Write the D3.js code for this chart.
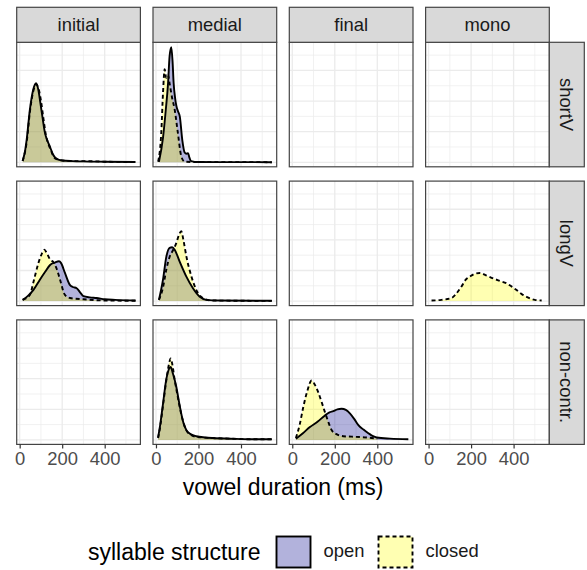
<!DOCTYPE html>
<html>
<head>
<meta charset="utf-8">
<script src="https://cdn.jsdelivr.net/npm/d3@7"></script>
<style>
    body { margin: 0; background: #fff; }
    text { font-family: "Liberation Sans", Arial, sans-serif; }
</style>
</head>
<body>
<div id="chart"></div>
<script>
var cols = ["initial", "medial", "final", "mono"];
var rows = ["shortV", "longV", "non-contr."];
var groups = ["open", "closed"];
var xTicks = [0, 200, 400];
var xMinor = [100, 300, 500];
var yGrid = [0, 0.0025, 0.005, 0.0075, 0.01, 0.0125, 0.015, 0.0175];

// density curves: [vowel duration ms, density]
var initialShortOpen = [[14,0.0002],[26,0.002],[33,0.0037],[48,0.0086],[64,0.0119],[77,0.0129],[88,0.0118],[97,0.0098],[108,0.0072],[119,0.0048],[132,0.0034],[143,0.0025],[155,0.0014],[166,0.0008],[185,0.0004],[200,0.0003],[250,0.0002],[300,0.00015],[400,0.0001],[545,0.00005]];
var initialShortClosed = [[14,0.0002],[33,0.0033],[48,0.0082],[64,0.0116],[78,0.0127],[90,0.0119],[100,0.0101],[112,0.0071],[123,0.0045],[135,0.003],[148,0.0019],[160,0.0009],[175,0.0005],[200,0.0003],[250,0.0002],[300,0.0002],[400,0.0001],[545,0.00005]];
var medialShortOpen = [[14,0.0001],[33,0.004],[46,0.0085],[57,0.013],[64,0.0173],[72,0.0188],[78,0.0165],[83,0.013],[90,0.0105],[96,0.0092],[104,0.0083],[112,0.0075],[124,0.0036],[135,0.0016],[143,0.0014],[151,0.0015],[157,0.0008],[165,0.0002],[200,0.00005],[300,0.00003],[545,0.00002]];
var medialShortClosed = [[10,0.0001],[25,0.0049],[33,0.0113],[41,0.0152],[48,0.0138],[56,0.0143],[65,0.0127],[76,0.0105],[88,0.0086],[103,0.0048],[119,0.001],[135,0.0001],[200,0.00003],[545,0.00002]];
var initialLongOpen = [[14,0.0002],[40,0.0009],[64,0.0018],[95,0.0035],[120,0.0048],[143,0.0059],[166,0.0063],[185,0.0065],[195,0.0062],[213,0.0046],[237,0.0026],[250,0.0023],[268,0.0021],[285,0.0014],[300,0.0008],[330,0.0006],[362,0.0005],[400,0.0003],[450,0.0002],[545,0.0001]];
var initialLongClosed = [[14,0.0002],[48,0.001],[64,0.003],[88,0.0062],[105,0.0078],[116,0.0084],[128,0.0078],[143,0.0068],[160,0.0063],[175,0.0052],[190,0.0035],[213,0.001],[237,0.0005],[300,0.0003],[400,0.0001],[545,0.00005]];
var medialLongOpen = [[14,0.0002],[33,0.0035],[49,0.0073],[64,0.0087],[76,0.0088],[88,0.0084],[111,0.0065],[143,0.004],[174,0.0021],[206,0.0007],[237,0.0002],[300,0.0001],[545,0.00005]];
var medialLongClosed = [[14,0.0002],[33,0.0022],[49,0.0052],[64,0.0072],[80,0.0083],[96,0.0095],[108,0.0108],[119,0.0114],[130,0.0098],[143,0.0073],[167,0.004],[190,0.0018],[221,0.0005],[260,0.0001],[545,0.00003]];
var monoLongClosed = [[14,0.0001],[60,0.0002],[108,0.0005],[130,0.0012],[155,0.0024],[175,0.0035],[194,0.004],[220,0.0045],[241,0.0046],[270,0.0042],[304,0.0037],[335,0.0033],[367,0.0029],[390,0.0024],[414,0.0018],[440,0.0011],[461,0.0007],[500,0.0002],[532,0.0001]];
var medialNonOpen = [[10,0.0004],[20,0.0025],[33,0.0059],[49,0.01],[60,0.0115],[69,0.0119],[80,0.0108],[96,0.0086],[108,0.0063],[119,0.0043],[130,0.0027],[143,0.0016],[165,0.0009],[190,0.0006],[230,0.0004],[268,0.0003],[350,0.0002],[450,0.0001],[545,0.0001]];
var medialNonClosed = [[10,0.0003],[20,0.0022],[33,0.0056],[49,0.0098],[62,0.0125],[69,0.0133],[76,0.0125],[88,0.0098],[100,0.0075],[119,0.0042],[135,0.0022],[150,0.0012],[190,0.0005],[268,0.0003],[350,0.0002],[450,0.0001],[545,0.0001]];
var finalNonOpen = [[17,0.0002],[50,0.0011],[83,0.0021],[120,0.003],[154,0.004],[175,0.0045],[193,0.0047],[212,0.005],[232,0.0051],[252,0.0049],[272,0.0043],[292,0.0034],[311,0.0024],[335,0.0017],[358,0.0011],[380,0.0006],[397,0.0004],[460,0.0002],[546,0.0001]];
var finalNonClosed = [[17,0.0003],[35,0.0025],[52,0.0054],[70,0.0079],[91,0.0097],[105,0.0091],[122,0.0078],[138,0.0062],[154,0.0045],[170,0.0029],[185,0.0016],[210,0.0009],[240,0.0006],[300,0.0005],[350,0.0004],[400,0.0002]];

var curves = [
    {col: "initial", row: "shortV", group: "open", values: initialShortOpen},
    {col: "initial", row: "shortV", group: "closed", values: initialShortClosed},
    {col: "medial", row: "shortV", group: "open", values: medialShortOpen},
    {col: "medial", row: "shortV", group: "closed", values: medialShortClosed},
    {col: "initial", row: "longV", group: "open", values: initialLongOpen},
    {col: "initial", row: "longV", group: "closed", values: initialLongClosed},
    {col: "medial", row: "longV", group: "open", values: medialLongOpen},
    {col: "medial", row: "longV", group: "closed", values: medialLongClosed},
    {col: "mono", row: "longV", group: "closed", values: monoLongClosed},
    {col: "medial", row: "non-contr.", group: "open", values: medialNonOpen},
    {col: "medial", row: "non-contr.", group: "closed", values: medialNonClosed},
    {col: "final", row: "non-contr.", group: "open", values: finalNonOpen},
    {col: "final", row: "non-contr.", group: "closed", values: finalNonClosed}
];

// layout
var panelLeft = 16.7, colStep = 136.3, panelW = 123.7;
var panelTop = 42.3, rowStep = 138.8, panelH = 124.5;
var stripH = 35, stripW = 35;
var font = "Liberation Sans, Arial, sans-serif";

var fillColor = {open: "rgba(0, 0, 139, 0.3)", closed: "rgba(255, 255, 0, 0.3)"};
var dash = {open: null, closed: "4,3"};

var svg = d3.select("#chart")
    .append("svg")
    .attr("width", 587)
    .attr("height", 570);

var x = d3.scaleLinear().domain([-14, 568]).range([0, panelW]);
var y = d3.scaleLinear().domain([-0.000735, 0.0196]).range([panelH, 0]);

function panelX(c) { return panelLeft + cols.indexOf(c) * colStep; }
function panelY(r) { return panelTop + rows.indexOf(r) * rowStep; }

var area = d3.area()
    .curve(d3.curveMonotoneX)
    .x(function(d) { return x(d[0]); })
    .y0(y(0))
    .y1(function(d) { return y(d[1]); });
var line = d3.line()
    .curve(d3.curveMonotoneX)
    .x(function(d) { return x(d[0]); })
    .y(function(d) { return y(d[1]); });

rows.forEach(function(r) {
    cols.forEach(function(c) {
        var g = svg.append("g")
            .attr("transform", "translate(" + panelX(c) + "," + panelY(r) + ")");

        g.append("rect")
            .attr("width", panelW).attr("height", panelH)
            .attr("fill", "#fff");

        g.selectAll(".minorX").data(xMinor).enter().append("line")
            .attr("x1", function(d) { return x(d); }).attr("x2", function(d) { return x(d); })
            .attr("y1", 0).attr("y2", panelH)
            .attr("stroke", "#EBEBEB").attr("stroke-width", 0.7);
        g.selectAll(".majorX").data(xTicks).enter().append("line")
            .attr("x1", function(d) { return x(d); }).attr("x2", function(d) { return x(d); })
            .attr("y1", 0).attr("y2", panelH)
            .attr("stroke", "#EBEBEB").attr("stroke-width", 1.3);
        g.selectAll(".gridY").data(yGrid).enter().append("line")
            .attr("x1", 0).attr("x2", panelW)
            .attr("y1", function(d) { return y(d); }).attr("y2", function(d) { return y(d); })
            .attr("stroke", "#EBEBEB")
            .attr("stroke-width", function(d, i) { return i % 2 === 0 ? 1.3 : 0.7; });

        var here = curves.filter(function(d) { return d.col === c && d.row === r; });
        here.forEach(function(d) {
            g.append("path")
                .attr("d", area(d.values))
                .attr("fill", fillColor[d.group]);
        });
        here.forEach(function(d) {
            g.append("path")
                .attr("d", line(d.values))
                .attr("fill", "none")
                .attr("stroke", "#000")
                .attr("stroke-width", 1.9)
                .attr("stroke-dasharray", dash[d.group]);
        });

        g.append("rect")
            .attr("width", panelW).attr("height", panelH)
            .attr("fill", "none")
            .attr("stroke", "#444").attr("stroke-width", 1.2);

        // bottom axis on last row
        if (r === rows[rows.length - 1]) {
            var ax = g.append("g")
                .attr("transform", "translate(0," + panelH + ")")
                .call(d3.axisBottom(x).tickValues(xTicks).tickSize(4).tickPadding(4));
            ax.select(".domain").remove();
            ax.selectAll("line").attr("stroke", "#333").attr("stroke-width", 1.2);
            ax.selectAll("text")
                .attr("fill", "#4D4D4D")
                .style("font-size", "18.4px")
                .style("font-family", font);
        }
    });
});

// top strips
cols.forEach(function(c) {
    svg.append("rect")
        .attr("x", panelX(c)).attr("y", panelTop - stripH)
        .attr("width", panelW).attr("height", stripH)
        .attr("fill", "#D9D9D9").attr("stroke", "#444").attr("stroke-width", 1.2);
    svg.append("text")
        .attr("x", panelX(c) + panelW / 2)
        .attr("y", panelTop - stripH / 2)
        .attr("dy", "0.35em")
        .attr("text-anchor", "middle")
        .attr("fill", "#1A1A1A")
        .style("font-size", "18.4px")
        .text(c);
});

// right strips
var stripX = panelX(cols[cols.length - 1]) + panelW;
rows.forEach(function(r) {
    svg.append("rect")
        .attr("x", stripX).attr("y", panelY(r))
        .attr("width", stripW).attr("height", panelH)
        .attr("fill", "#D9D9D9").attr("stroke", "#444").attr("stroke-width", 1.2);
    svg.append("text")
        .attr("transform", "translate(" + (stripX + stripW / 2) + "," + (panelY(r) + panelH / 2) + ") rotate(90)")
        .attr("dy", "0.35em")
        .attr("text-anchor", "middle")
        .attr("fill", "#1A1A1A")
        .style("font-size", "18.4px")
        .text(r);
});

svg.append("text")
    .attr("x", (panelLeft + stripX) / 2)
    .attr("y", 495)
    .attr("text-anchor", "middle")
    .attr("fill", "#000")
    .style("font-size", "23px")
    .text("vowel duration (ms)");

// legend
var legend = svg.append("g");
legend.append("text")
    .attr("x", 88).attr("y", 560)
    .attr("fill", "#000")
    .style("font-size", "23px")
    .text("syllable structure");

var keyX = {open: 276.5, closed: 378.5};
groups.forEach(function(gname) {
    legend.append("rect")
        .attr("x", keyX[gname]).attr("y", 536.5)
        .attr("width", 34).attr("height", 31)
        .attr("fill", "#fff");
    legend.append("rect")
        .attr("x", keyX[gname]).attr("y", 536.5)
        .attr("width", 34).attr("height", 31)
        .attr("fill", fillColor[gname])
        .attr("stroke", "#000").attr("stroke-width", 1.9)
        .attr("stroke-dasharray", dash[gname]);
    legend.append("text")
        .attr("x", keyX[gname] + 47).attr("y", 557)
        .attr("fill", "#1A1A1A")
        .style("font-size", "18.4px")
        .text(gname);
});
</script>
</body>
</html>
